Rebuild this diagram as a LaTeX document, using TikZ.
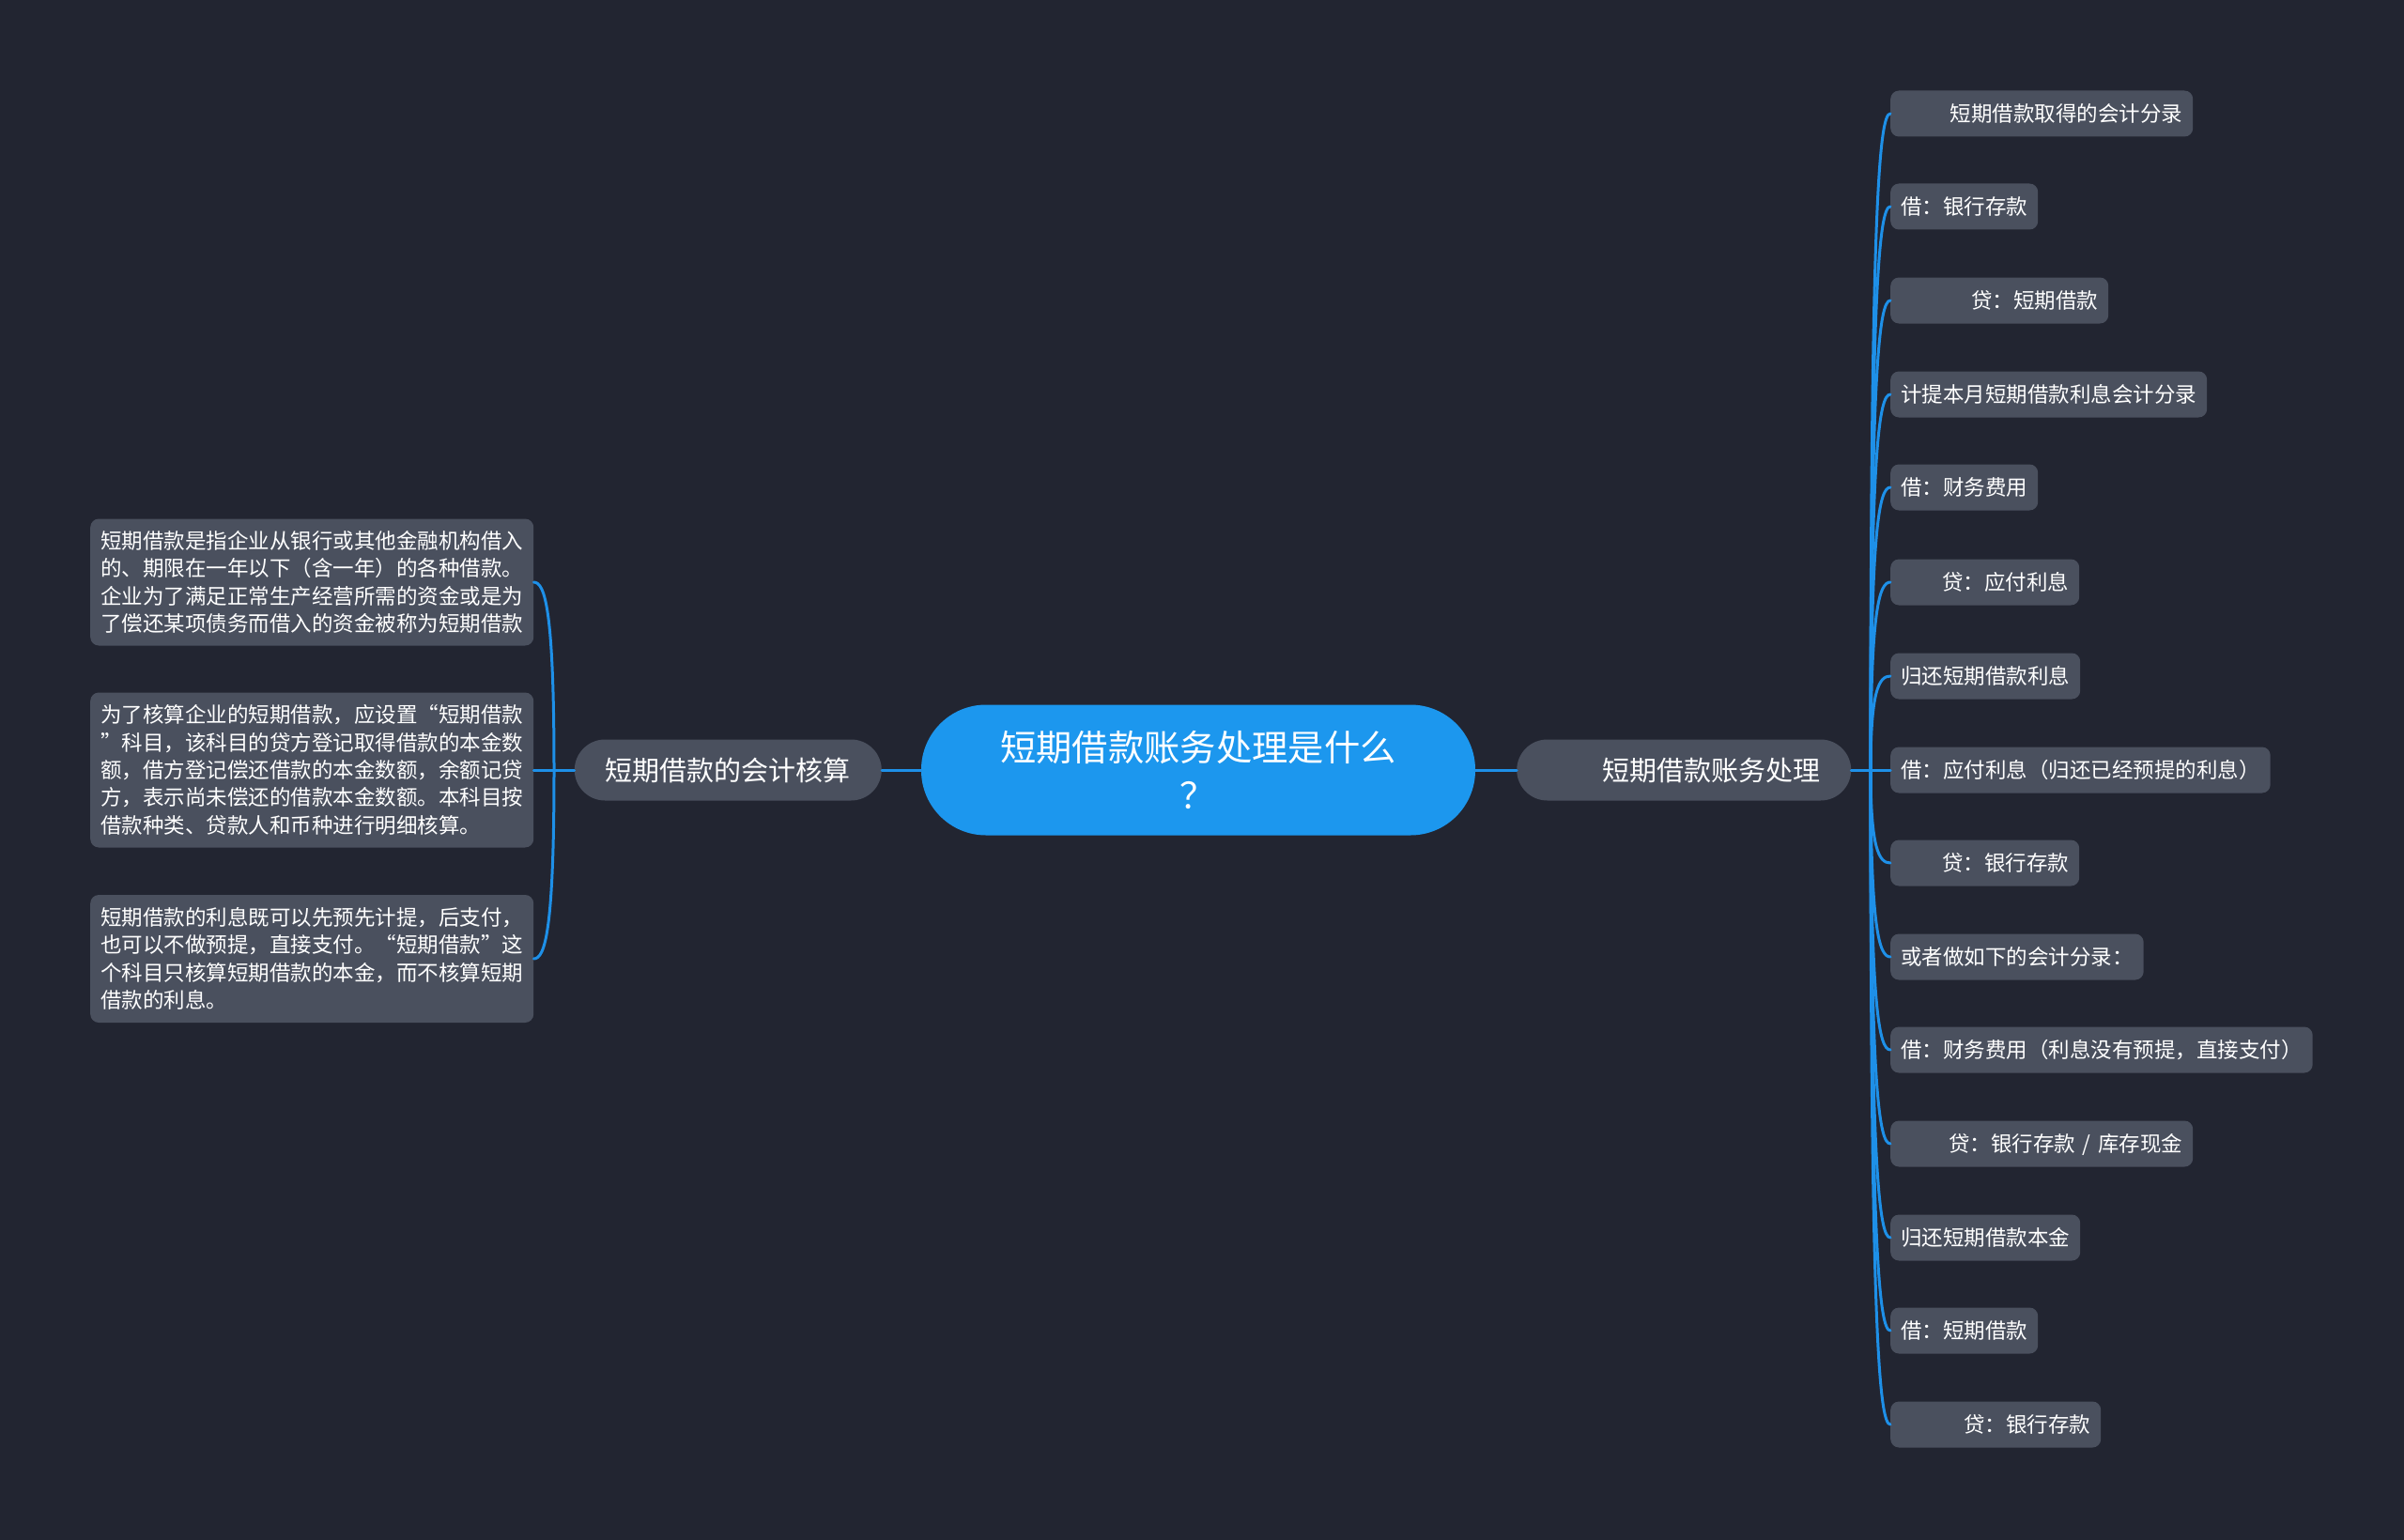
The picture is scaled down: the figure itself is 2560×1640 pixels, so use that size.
\documentclass[tikz,border=0pt]{standalone}
\usepackage{fontspec}
\setmainfont{Noto Sans CJK SC}
\definecolor{bgc}{HTML}{222531}
\definecolor{boxc}{HTML}{4A505E}
\definecolor{rootc}{HTML}{1C97EE}
\definecolor{linec}{HTML}{1E90E8}
\tikzset{
  leafbox/.style={fill=boxc, rounded corners=9pt, text=white, inner xsep=11pt, inner ysep=0pt,
    minimum height=49pt, anchor=west, text height=17.6pt, text depth=0.5pt,
    font={\fontsize{22.5pt}{29.4pt}\selectfont}},
  notebox/.style={fill=boxc, rounded corners=9pt, text=white, inner xsep=11pt, inner ysep=0pt,
    text width=450pt, align=left, anchor=west,
    font={\fontsize{22.5pt}{29.4pt}\selectfont}},
  mainbox/.style={fill=boxc, rounded corners=32.5pt, text=white, inner xsep=33pt, inner ysep=0pt,
    minimum height=65pt, text height=23pt, text depth=0.6pt,
    font={\fontsize{29pt}{36pt}\selectfont}},
  rootbox/.style={fill=rootc, rounded corners=69pt, text=white, inner sep=0pt,
    minimum width=590pt, minimum height=139pt, align=center,
    font={\fontsize{38.3pt}{50.6pt}\selectfont}},
  conn/.style={draw=linec, line width=3pt, line cap=round},
}
\begin{document}
\begin{tikzpicture}[x=1pt,y=-1pt]
\useasboundingbox (0,0) rectangle (2560,1640);
\fill[bgc] (0,0) rectangle (2560,1640);

% root and main branches
\node[rootbox] (root) at (1276,820) {短期借款账务处理是什么\\？};
\node[mainbox, anchor=east] (lmain) at (939,820) {短期借款的会计核算};
\node[mainbox, anchor=west, text width=290pt, align=right] (rmain) at (1615,820) {短期借款账务处理};

% left notes
\node[notebox, minimum height=135pt] (l1) at (96,620) {短期借款是指企业从银行或其他金融机构借入\\的、期限在一年以下（含一年）的各种借款。\\企业为了满足正常生产经营所需的资金或是为\\了偿还某项债务而借入的资金被称为短期借款};
\node[notebox, minimum height=165pt] (l2) at (96,820) {为了核算企业的短期借款，应设置“短期借款\\”科目，该科目的贷方登记取得借款的本金数\\额，借方登记偿还借款的本金数额，余额记贷\\方，表示尚未偿还的借款本金数额。本科目按\\借款种类、贷款人和币种进行明细核算。};
\node[notebox, minimum height=136pt] (l3) at (96,1021) {短期借款的利息既可以先预先计提，后支付，\\也可以不做预提，直接支付。“短期借款”这\\个科目只核算短期借款的本金，而不核算短期\\借款的利息。};

% right leaves
\node[leafbox, text width=300pt, align=right] (r1) at (2013,121) {短期借款取得的会计分录};
\node[leafbox] (r2) at (2013,220) {借：银行存款};
\node[leafbox, text width=210pt, align=right] (r3) at (2013,320) {贷：短期借款};
\node[leafbox] (r4) at (2013,420) {计提本月短期借款利息会计分录};
\node[leafbox] (r5) at (2013,519) {借：财务费用};
\node[leafbox, text width=179pt, align=right] (r6) at (2013,620) {贷：应付利息};
\node[leafbox] (r7) at (2013,720) {归还短期借款利息};
\node[leafbox] (r8) at (2013,820) {借：应付利息（归还已经预提的利息）};
\node[leafbox, text width=179pt, align=right] (r9) at (2013,919) {贷：银行存款};
\node[leafbox] (r10) at (2013,1019) {或者做如下的会计分录：};
\node[leafbox] (r11) at (2013,1118) {借：财务费用（利息没有预提，直接支付）};
\node[leafbox, text width=300pt, align=right] (r12) at (2013,1218) {贷：银行存款 / 库存现金};
\node[leafbox] (r13) at (2013,1318) {归还短期借款本金};
\node[leafbox] (r14) at (2013,1417) {借：短期借款};
\node[leafbox, text width=202pt, align=right] (r15) at (2013,1517) {贷：银行存款};

% junctions
\coordinate (lj) at (590,820);
\coordinate (rj) at (1992,820);

% connectors
\draw[conn] (root.west) -- (lmain.east);
\draw[conn] (root.east) -- (rmain.west);
\draw[conn] (lmain.west) -- (lj);
\draw[conn] (lj) -- (l2.east);
\draw[conn] (lj) .. controls +(0,-170) and +(12,0) .. (l1.east);
\draw[conn] (lj) .. controls +(0,171) and +(12,0) .. (l3.east);

\draw[conn] (rmain.east) -- (rj);
\draw[conn] (rj) -- (r8.west);
\foreach \n/\d in {1/-699,2/-600,3/-500,4/-400,5/-301,6/-200,7/-100,9/99,10/199,11/298,12/398,13/498,14/597,15/697}{
  \draw[conn] (rj) .. controls +(0,0.85*\d) and +(-12,0) .. (r\n.west);
}
\end{tikzpicture}
\end{document}
